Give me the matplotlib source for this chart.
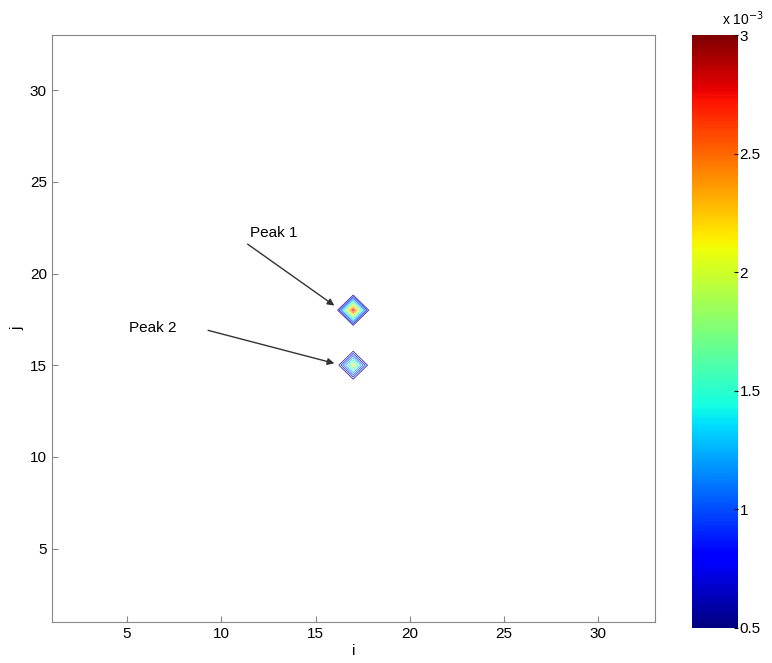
import matplotlib.pyplot as plt
import numpy as np

plt.rcParams['font.family'] = ['Liberation Sans', 'DejaVu Sans']

# grid size and peaks (x index, y index, height)
n = 33
peak_x = [17, 17]
peak_y = [18, 15]
peak_h = [2.9e-3, 2.1e-3]
peak_names = ['Peak 1', 'Peak 2']

levels = [0.5e-3, 0.75e-3, 1.0e-3, 1.25e-3, 1.5e-3, 1.75e-3, 2.0e-3, 2.25e-3, 2.5e-3, 2.75e-3]
cbar_ticks = [0.5, 1, 1.5, 2, 2.5, 3]

Z = np.zeros((n, n))
for px, py, h in zip(peak_x, peak_y, peak_h):
    Z[py - 1, px - 1] = h
X, Y = np.meshgrid(np.arange(1, n + 1), np.arange(1, n + 1))

fig = plt.figure(figsize=(7.72, 6.63), dpi=100)
ax = fig.add_axes([0.067, 0.062, 0.781, 0.885])
cax = fig.add_axes([0.896, 0.053, 0.06, 0.894])

norm = plt.Normalize(0.5e-3, 3e-3)
cs = ax.contour(X, Y, Z, levels=levels, cmap='jet', norm=norm, linewidths=0.6, alpha=0.8)
ax.set_xlim(1, n)
ax.set_ylim(1, n)
ax.set_xticks([5, 10, 15, 20, 25, 30])
ax.set_yticks([5, 10, 15, 20, 25, 30])
ax.tick_params(direction='in', length=4, color='#888888', labelsize=11)
for s in ax.spines.values():
    s.set_color('#888888')
ax.set_xlabel('i', fontsize=11, labelpad=2)
ax.set_ylabel('j', fontsize=11)

# annotations: labels and arrows
ax.text(11.5, 22.0, peak_names[0], fontsize=11)
ax.text(5.1, 16.8, peak_names[1], fontsize=11)
arrow = dict(arrowstyle='-|>', color='#333333', lw=1, shrinkA=0, shrinkB=0)
ax.annotate('', xy=(16.0, 18.25), xytext=(11.4, 21.6), arrowprops=arrow)
ax.annotate('', xy=(16.0, 15.1), xytext=(9.3, 16.9), arrowprops=arrow)

# colorbar
sm = plt.cm.ScalarMappable(norm=plt.Normalize(0.5, 3), cmap='jet')
cb = fig.colorbar(sm, cax=cax)
cb.set_ticks(cbar_ticks)
cb.set_ticklabels(['0.5', '1', '1.5', '2', '2.5', '3'])
cax.tick_params(direction='in', length=3, labelsize=11, pad=1)
cb.outline.set_visible(False)
fig.text(0.99, 0.962, r'x 10$^{-3}$', fontsize=10, ha='right')

fig.savefig('out.png', dpi=100)
